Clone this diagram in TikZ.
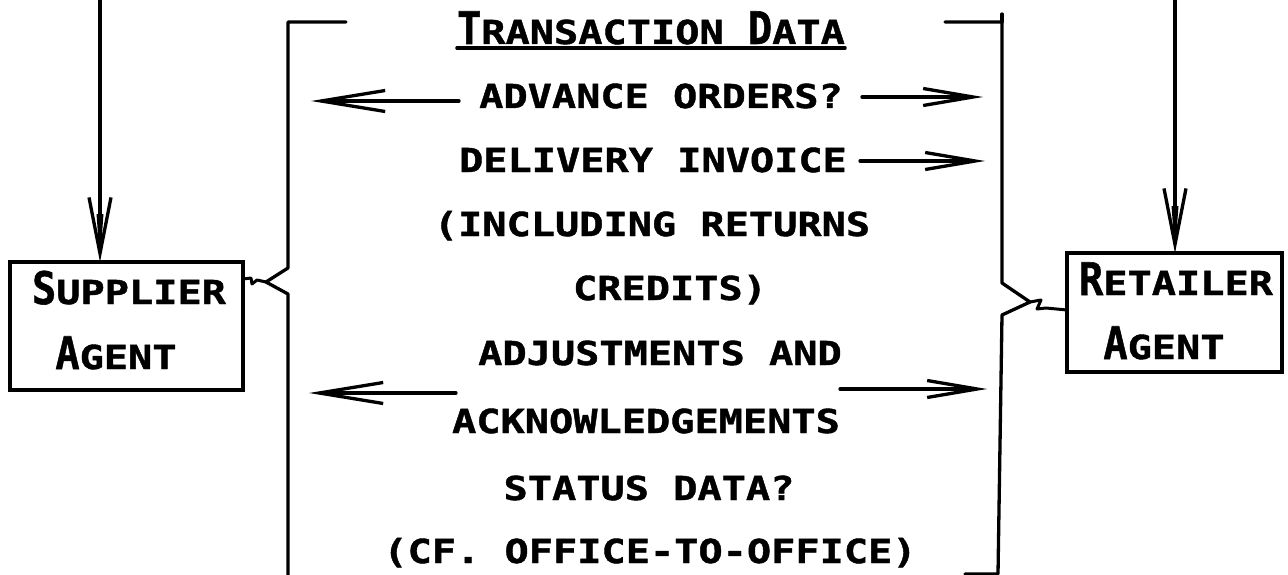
\documentclass[tikz,border=0pt]{standalone}
\usepackage{fontspec}
\usepackage{graphicx}
\usetikzlibrary{arrows.meta}
\newfontfamily\lett[FakeStretch=1.22,FakeBold=1.3]{DejaVu Sans Mono Bold}
% a tall initial letter, same width as the others
\newcommand{\tallcap}[1]{\scalebox{1}[1.36]{#1}}
\begin{document}
\begin{tikzpicture}[x=1pt,y=-1pt,
  ln/.style={line width=3.3pt, line cap=round, line join=round},
  box/.style={draw, line width=3.3pt, outer sep=0pt, inner sep=0pt},
  txt/.style={font=\lett\fontsize{33}{40}\selectfont, inner sep=0pt, anchor=base},
  harr/.style={ln, -{Straight Barb[length=64pt,width=21pt]}},
  rarr/.style={ln, -{Straight Barb[length=50pt,width=17pt]}},
  varr/.style={ln, -{Straight Barb[length=56pt,width=22pt]}}]
\useasboundingbox (0,0) rectangle (1288,575);

% agents
\node[box, minimum width=233pt, minimum height=128pt] (sup) at (126.5,326) {};
\node[box, minimum width=215pt, minimum height=119pt] (ret) at (1174.5,312.5) {};
\node[txt] (supA) at (129,304) {\tallcap{S}UPPLIER};
\node[txt] (supB) at (116,369) {\tallcap{A}GENT};
\node[txt] (retA) at (1176,295) {\tallcap{R}ETAILER};
\node[txt] (retB) at (1164,359) {\tallcap{A}GENT};

% incoming lines from above
\coordinate (sa) at (100,-5);
\coordinate (ra) at (1175,-5);
\draw[varr] (sa) -- (sa |- sup.north);
\draw[varr] (ra) -- (ra |- ret.north);
\fill (96.5,214) -- (103.5,214) -- (100,262) -- cycle;
\fill (1171.5,206) -- (1178.5,206) -- (1175,253) -- cycle;

% title and list of data
\node[txt] (title) at (651,44) {\tallcap{T}RANSACTION \tallcap{D}ATA};
\draw[ln] ([yshift=-4pt]title.base west) -- ([yshift=-4pt]title.base east);
\node[txt] (adv)   at (661,108) {ADVANCE ORDERS?};
\node[txt] (deliv) at (653,172) {DELIVERY INVOICE};
\node[txt] (incl)  at (652,236) {(INCLUDING RETURNS};
\node[txt] (cred)  at (670,300) {CREDITS)};
\node[txt] (adj)   at (660,365) {ADJUSTMENTS AND};
\node[txt] (ack)   at (646,433) {ACKNOWLEDGEMENTS};
\node[txt] (stat)  at (649,500) {STATUS DATA?};
\node[txt] (cf)    at (650,563) {(CF. OFFICE-TO-OFFICE)};

% left bracket with its cusp towards the supplier
\coordinate (lcusp) at (266,282);
\coordinate (lsq) at (0,279);
\draw[ln] (346,22) -- (288,22) -- (288,268) -- (lcusp) -- (288,294) -- (288,580);
\draw[line width=3pt, line join=round] (lcusp) -- (257,280) -- (252,284) -- (251,278) -- (sup.east |- lsq);

% right bracket with its cusp towards the retailer
\coordinate (rcusp) at (1030,302);
\coordinate (rsq) at (0,310);
\draw[ln] (945,22) -- (1002,22) -- (1002,283) -- (rcusp) -- (1002,315) -- (998,574) -- (965,574);
\draw[ln] (1002,22) -- (1002,14);
\draw[line width=3pt, line join=round] (rcusp) -- (1041,300) -- (1037,309) -- (1046,308) -- (ret.west |- rsq);

% flow arrows
\coordinate (advL) at (459,101);  \coordinate (advLt) at (311,101);
\coordinate (advR) at (862,97);   \coordinate (advRt) at (983,97);
\coordinate (delR) at (860,161);  \coordinate (delRt) at (985,161);
\coordinate (adjL) at (456,393);  \coordinate (adjLt) at (309,393);
\coordinate (adjR) at (840,389);  \coordinate (adjRt) at (987,389);
\draw[harr] (advL) -- (advLt);
\draw[rarr] (advR) -- (advRt);
\draw[rarr] (delR) -- (delRt);
\draw[harr] (adjL) -- (adjLt);
\draw[rarr] (adjR) -- (adjRt);
\end{tikzpicture}
\end{document}
